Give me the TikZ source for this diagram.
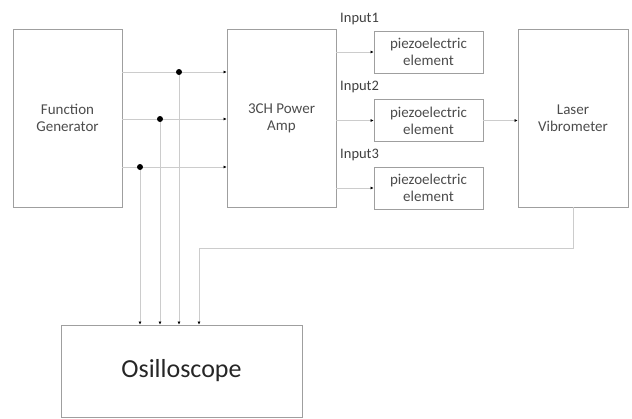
\documentclass[tikz,border=0pt]{standalone}
\usepackage{fontspec}
\setmainfont{Carlito}
\usetikzlibrary{arrows.meta,positioning}
\tikzset{
	blk/.style = {draw = gray!75, line width = .8pt, text = black!70, align = center, font = \fontsize{15}{17}\selectfont, inner sep = 0pt},
	wire/.style = {draw = gray!40, line width = 1pt},
	tip/.style = {-{Latex[length = 3pt, width = 3pt, color = black]}},
	lbl/.style = {text = black!75, font = \fontsize{14.5}{16}\selectfont, inner sep = 1pt}
}
\begin{document}
\begin{tikzpicture}[x = 1pt, y = -1pt]
		\useasboundingbox (0, 0) rectangle (632, 418);
		% blocks
		\node[blk, minimum width = 109pt, minimum height = 178pt] (fg) at (67.5, 118) {Function\\Generator};
		\node[blk, minimum width = 109pt, minimum height = 178pt] (pa) at (281.5, 118) {3CH Power\\Amp};
		\node[blk, minimum width = 110pt, minimum height = 178pt] (la) at (573, 118) {Laser\\Vibrometer};
		\node[blk, minimum width = 241pt, minimum height = 92pt, text = black!85, font = \fontsize{26}{30}\selectfont] (osc) at (181.5, 371) {Osilloscope};
		\foreach \n/\y in {1/52, 2/120.5, 3/188}{
			\node[blk, minimum width = 109pt, minimum height = 42pt] (p\n) at (428.5, \y) {piezoelectric\\element};
			\node[lbl, anchor = south] (in\n) at ([xshift = -14pt, yshift = 5pt]p\n.north west) {Input\n};
			\draw[wire, tip] (p\n.west -| pa.east) -- (p\n.west);}
		% function generator outputs, tapped to the scope
		\foreach \n/\y/\x in {1/72/179, 2/119/160, 3/167/140}{
			\coordinate (d\n) at (\x, \y);
			\draw[wire, tip] (d\n -| fg.east) -- (d\n -| pa.west);
			\draw[wire, tip] (d\n) -- (d\n |- osc.north);
			\fill (d\n) circle (3pt);}
		\draw[wire, tip] (p2.east) -- (p2.east -| la.west);
		\coordinate (bend) at (199, 248);
		\draw[wire, tip] (la.south) |- (bend) -- (bend |- osc.north);
		\end{tikzpicture}
\end{document}
